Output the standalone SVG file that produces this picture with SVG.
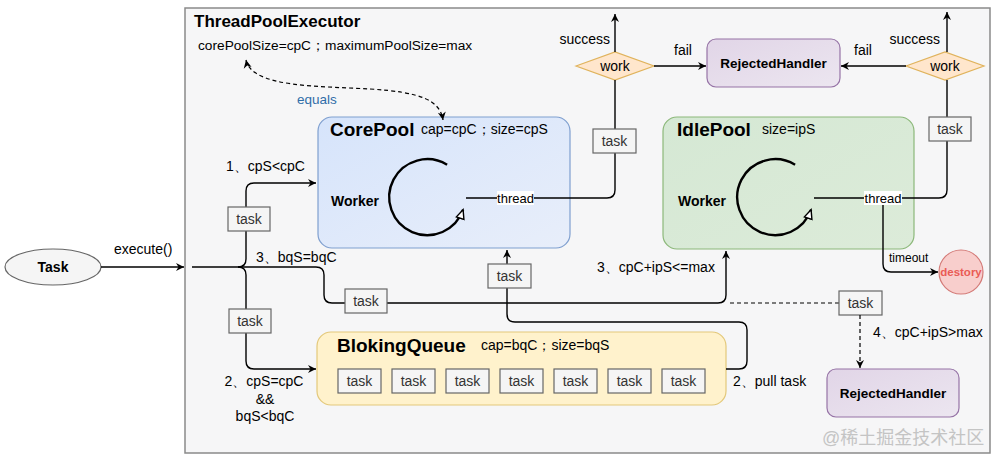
<svg xmlns="http://www.w3.org/2000/svg" width="999" height="462" viewBox="0 0 999 462">
<style>
text{font-family:"Liberation Sans",Arial,sans-serif;fill:#000;}
.lbl{font-size:14px;}
.b{font-weight:bold;}
.tb{fill:#f5f5f5;stroke:#666;stroke-width:1.2;}
.tt{font-size:14px;fill:#333;text-anchor:middle;}
.ln{fill:none;stroke:#000;stroke-width:1.4;}
.dash{fill:none;stroke:#000;stroke-width:1.2;stroke-dasharray:4 3;}
.dia{fill:#ffe6cc;stroke:#e0b35c;stroke-width:1.2;}
.rej{fill:url(#gRej);stroke:#9673a6;stroke-width:1.2;}
</style>
<defs>
<linearGradient id="gCore" x1="0" y1="0" x2="1" y2="1"><stop offset="0" stop-color="#d6e4fb"/><stop offset="1" stop-color="#e8eefa"/></linearGradient>
<linearGradient id="gIdle" x1="0" y1="0" x2="1" y2="1"><stop offset="0" stop-color="#d5e8d4"/><stop offset="1" stop-color="#dcebd9"/></linearGradient>
<linearGradient id="gRej" x1="0" y1="0" x2="1" y2="1"><stop offset="0" stop-color="#e1d5e7"/><stop offset="1" stop-color="#ece6f0"/></linearGradient>
<marker id="arr" markerWidth="10" markerHeight="10" refX="9" refY="5" orient="auto-start-reverse" markerUnits="userSpaceOnUse"><path d="M1,1 L9,5 L1,9 L3.5,5 z" fill="#000"/></marker>
<marker id="open" markerWidth="12" markerHeight="12" refX="10" refY="6" orient="auto" markerUnits="userSpaceOnUse"><path d="M1,2 L10,6 L1,10 z" fill="#fff" stroke="#000" stroke-width="1.4"/></marker>
</defs>

<g id="frame">
<rect x="185" y="8" width="805" height="445" fill="#f6f6f7" stroke="#8a8a8a" stroke-width="1.5"/>
<text x="194" y="27" font-size="17" class="b">ThreadPoolExecutor</text>
<text x="198" y="50" font-size="13.7">corePoolSize=cpC；maximumPoolSize=max</text>
</g>

<g id="task">
<ellipse cx="53" cy="267" rx="48" ry="18" fill="#f5f5f5" stroke="#666" stroke-width="1.2"/>
<text x="53" y="272" font-size="14" class="b" text-anchor="middle">Task</text>
</g>

<g id="corePool">
<rect x="318" y="117" width="252" height="131" rx="14" fill="url(#gCore)" stroke="#7f9fcf" stroke-width="1.2"/>
<text x="330" y="136" font-size="19" class="b">CorePool</text>
<text x="421" y="134" font-size="14">cap=cpC；size=cpS</text>
<text x="331" y="206" font-size="14" class="b">Worker</text>
<path d="M447.1,164.8 A38,38 0 1 0 463.1,209.7" fill="none" stroke="#000" stroke-width="2.4" marker-end="url(#open)"/>
</g>

<g id="idlePool">
<rect x="663" y="117" width="251" height="132" rx="14" fill="url(#gIdle)" stroke="#8cb87a" stroke-width="1.2"/>
<text x="677" y="136" font-size="19" class="b">IdlePool</text>
<text x="762" y="134" font-size="14">size=ipS</text>
<text x="678" y="206" font-size="14" class="b">Worker</text>
<path d="M795.1,164.8 A38,38 0 1 0 811.1,209.7" fill="none" stroke="#000" stroke-width="2.4" marker-end="url(#open)"/>
</g>

<g id="blockingQueue">
<rect x="317" y="332" width="409" height="73" rx="14" fill="#fff2cc" stroke="#e3c87a" stroke-width="1.2"/>
<text x="337" y="352" font-size="19" class="b">BlokingQueue</text>
<text x="481" y="350" font-size="14">cap=bqC；size=bqS</text>
<rect class="tb" x="338" y="369" width="43" height="24"/><text class="tt" x="359.5" y="386">task</text>
<rect class="tb" x="392" y="369" width="43" height="24"/><text class="tt" x="413.5" y="386">task</text>
<rect class="tb" x="446" y="369" width="43" height="24"/><text class="tt" x="467.5" y="386">task</text>
<rect class="tb" x="500" y="369" width="43" height="24"/><text class="tt" x="521.5" y="386">task</text>
<rect class="tb" x="554" y="369" width="43" height="24"/><text class="tt" x="575.5" y="386">task</text>
<rect class="tb" x="608" y="369" width="43" height="24"/><text class="tt" x="629.5" y="386">task</text>
<rect class="tb" x="662" y="369" width="43" height="24"/><text class="tt" x="683.5" y="386">task</text>
</g>

<g id="workLeft">
<path class="dia" d="M576,66 L615,52 L654,66 L615,80 z"/>
<text x="615" y="71" font-size="14" text-anchor="middle">work</text>
</g>
<g id="workRight">
<path class="dia" d="M906,66 L945,52 L984,66 L945,80 z"/>
<text x="945" y="71" font-size="14" text-anchor="middle">work</text>
</g>

<g id="rejectedTop">
<rect class="rej" x="707" y="39" width="133" height="48" rx="9"/>
<text x="773.5" y="68" font-size="13.5" class="b" text-anchor="middle">RejectedHandler</text>
</g>
<g id="rejectedBottom">
<rect class="rej" x="827" y="369" width="132" height="48" rx="9"/>
<text x="893" y="398" font-size="13.5" class="b" text-anchor="middle">RejectedHandler</text>
</g>

<g id="destory">
<circle cx="961" cy="272" r="22" fill="#f8cecc" stroke="#d47a77" stroke-width="1.2"/>
<text x="961" y="276" font-size="11.5" class="b" text-anchor="middle" style="fill:#ea5b55">destory</text>
</g>

<g id="connectors">
<path class="dash" d="M246,60 C252,88 320,86 370,89 C420,92 440,100 443,120" marker-start="url(#arr)" marker-end="url(#arr)"/>
<text x="297" y="104" font-size="13.5" style="fill:#2f6da8">equals</text>
<path class="ln" d="M101,267 L184,267" marker-end="url(#arr)"/>
<text x="114" y="254" class="lbl">execute()</text>
<path class="ln" d="M192,267 L238,267"/>
<path class="ln" d="M238,267 Q246,267 246,259 L246,191 Q246,183 254,183 L316,183" marker-end="url(#arr)"/>
<text x="226" y="171" class="lbl">1、cpS&lt;cpC</text>
<rect class="tb" x="228" y="207" width="42" height="24"/><text class="tt" x="249" y="224">task</text>
<path class="ln" d="M238,267 Q246,267 246,275 L246,361 Q246,369 254,369 L316,369" marker-end="url(#arr)"/>
<rect class="tb" x="229" y="309" width="42" height="24"/><text class="tt" x="250" y="326">task</text>
<text x="264" y="386" class="lbl" text-anchor="middle">2、cpS=cpC</text>
<text x="265" y="404" class="lbl" text-anchor="middle">&amp;&amp;</text>
<text x="265" y="421" class="lbl" text-anchor="middle">bqS&lt;bqC</text>
<path class="ln" d="M238,267 L316,267 Q324,267 324,275 L324,295 Q324,303 332,303 L718,303 Q726,303 726,295 L726,251" marker-end="url(#arr)"/>
<rect class="tb" x="345" y="289" width="42" height="24"/><text class="tt" x="366" y="306">task</text>
<text x="256" y="262" class="lbl">3、bqS=bqC</text>
<text x="597" y="272" class="lbl">3、cpC+ipS&lt;=max</text>
<path class="dash" d="M730,303 L839,303"/>
<rect class="tb" x="839" y="291" width="43" height="24"/><text class="tt" x="860.5" y="308">task</text>
<path class="dash" d="M860,315 L860,368" marker-end="url(#arr)"/>
<text x="873" y="337" class="lbl">4、cpC+ipS&gt;max</text>
<path class="ln" d="M726,369 L739,369 Q747,369 747,361 L747,330 Q747,322 739,322 L515,322 Q507,322 507,314 L507,250" marker-end="url(#arr)"/>
<rect class="tb" x="488" y="264" width="43" height="24"/><text class="tt" x="509.5" y="281">task</text>
<text x="733" y="386" class="lbl">2、pull task</text>
<path class="ln" d="M466,198 L607,198 Q615,198 615,190 L615,80"/>
<rect x="497" y="191" width="37" height="14" fill="#fff"/>
<text x="515.5" y="203" font-size="13" text-anchor="middle">thread</text>
<rect class="tb" x="593" y="129" width="43" height="24"/><text class="tt" x="614.5" y="146">task</text>
<path class="ln" d="M615,52 L615,14" marker-end="url(#arr)"/>
<text x="610" y="44" class="lbl" text-anchor="end">success</text>
<path class="ln" d="M654,66 L706,66" marker-end="url(#arr)"/>
<text x="674" y="55" class="lbl">fail</text>
<path class="ln" d="M814,198 L939,198 Q947,198 947,190 L947,80"/>
<rect x="864" y="191" width="38" height="14" fill="#fff"/>
<text x="883" y="203" font-size="13" text-anchor="middle">thread</text>
<rect class="tb" x="929" y="117" width="42" height="24"/><text class="tt" x="950" y="134">task</text>
<path class="ln" d="M947,52 L947,12" marker-end="url(#arr)"/>
<text x="940" y="44" class="lbl" text-anchor="end">success</text>
<path class="ln" d="M906,66 L841,66" marker-end="url(#arr)"/>
<text x="854" y="55" class="lbl">fail</text>
<path class="ln" d="M883,205 L883,264 Q883,272 891,272 L938,272" marker-end="url(#arr)"/>
<text x="889" y="262" font-size="12">timeout</text>
</g>

<text x="822" y="444" font-size="18" style="font-family:'Liberation Sans','Noto Sans CJK SC',sans-serif;fill:#c4c4c4">@稀土掘金技术社区</text>
</svg>
